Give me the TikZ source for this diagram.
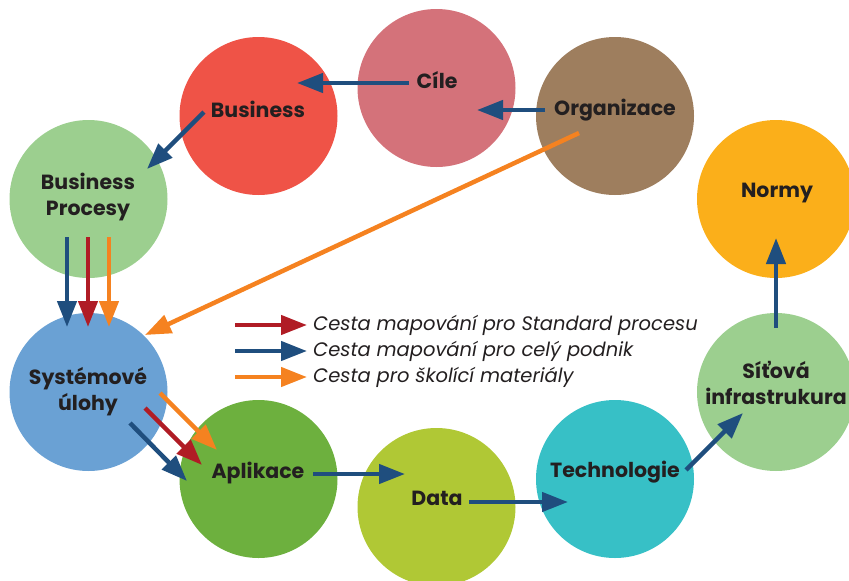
\documentclass[tikz,border=0pt]{standalone}
\usepackage{fontspec}
\setmainfont{Poppins}
\usetikzlibrary{arrows.meta,calc}
\definecolor{cCile}{HTML}{D4727A}
\definecolor{cBus}{HTML}{EF5347}
\definecolor{cOrg}{HTML}{9E7E5E}
\definecolor{cGreenL}{HTML}{9CCF8F}
\definecolor{cNormy}{HTML}{FBAF1A}
\definecolor{cSys}{HTML}{6AA1D4}
\definecolor{cApl}{HTML}{6DB03E}
\definecolor{cData}{HTML}{B0C835}
\definecolor{cTech}{HTML}{37C0C6}
\definecolor{aBlue}{HTML}{1F4E7E}
\definecolor{aRed}{HTML}{B01C25}
\definecolor{aOrange}{HTML}{F58220}
\definecolor{txt}{HTML}{231F20}
\tikzset{
  bubble/.style={circle,minimum size=158pt,inner sep=0pt,draw=none,fill=#1},
  lab/.style={text=txt,font=\bfseries\fontsize{20.5}{26}\selectfont,align=center,inner sep=0pt},
  leg/.style={text=txt,font=\itshape\fontsize{19.5}{22}\selectfont,anchor=west,inner sep=0pt},
  conn/.style={line width=4.5pt,draw=#1,-{Triangle[length=26pt,width=19pt]}},
}
\begin{document}
\begin{tikzpicture}[x=1pt,y=1pt]
\useasboundingbox (0,0) rectangle (849,-581);
\clip (0,0) rectangle (849,-581);
% circles
\node[bubble=cCile] (cile) at (436.5,-88) {};
\node[bubble=cBus] (bus) at (258.5,-116) {};
\node[bubble=cOrg] (org) at (615,-116) {};
\node[bubble=cGreenL] (bp) at (88.5,-199) {};
\node[bubble=cNormy] (normy) at (776,-199) {};
\node[bubble=cSys] (sys) at (88.5,-392) {};
\node[bubble=cApl] (apl) at (258.5,-479) {};
\node[bubble=cData] (data) at (436.5,-507) {};
\node[bubble=cTech] (tech) at (615,-479) {};
\node[bubble=cGreenL] (sit) at (776,-392) {};
% labels
\node[lab] (lCile) at (437,-80) {Cíle};
\node[lab] (lBus) at (258,-109) {Business};
\node[lab] (lOrg) at (615,-110) {Organizace};
\node[lab] (lBp) at (88,-197) {Business\\Procesy};
\node[lab] (lNormy) at (777,-193) {Normy};
\node[lab] (lSys) at (88,-392) {Systémové\\úlohy};
\node[lab] (lApl) at (258,-473) {Aplikace};
\node[lab] (lData) at (437,-498) {Data};
\node[lab] (lTech) at (615,-472) {Technologie};
\node[lab] (lSit) at (776,-383) {Síťová\\infrastrukura};
% connector end points
\coordinate (cileS) at (409,-83);   \coordinate (busE) at (297,-83);
\coordinate (orgS) at (545,-110);   \coordinate (cileE) at (477,-110);
\coordinate (busS) at (204,-112);   \coordinate (bpE) at (147,-169);
\coordinate (bpS1) at (67,-237);    \coordinate (sysE1) at (67,-327);
\coordinate (bpS2) at (88,-237);    \coordinate (sysE2) at (88,-327);
\coordinate (bpS3) at (109,-237);   \coordinate (sysE3) at (109,-327);
\coordinate (orgS2) at (579,-133);  \coordinate (sysE4) at (145,-335);
\coordinate (sysS1) at (130,-423);  \coordinate (aplE1) at (187,-481);
\coordinate (sysS2) at (145,-408);  \coordinate (aplE2) at (202,-465);
\coordinate (sysS3) at (160,-393);  \coordinate (aplE3) at (217,-450);
\coordinate (aplS) at (313,-474);   \coordinate (dataE) at (405,-474);
\coordinate (dataS) at (469,-502);  \coordinate (techE) at (568,-502);
\coordinate (techS) at (686,-470);  \coordinate (sitE) at (743,-413);
\coordinate (sitS) at (776,-328);   \coordinate (normyE) at (776,-238);
% connectors
\draw[conn=aBlue] (cileS) -- (busE);
\draw[conn=aBlue] (orgS) -- (cileE);
\draw[conn=aBlue] (busS) -- (bpE);
\draw[conn=aBlue] (bpS1) -- (sysE1);
\draw[conn=aRed] (bpS2) -- (sysE2);
\draw[conn=aOrange] (bpS3) -- (sysE3);
\draw[conn=aOrange] (orgS2) -- (sysE4);
\draw[conn=aBlue] (sysS1) -- (aplE1);
\draw[conn=aRed] (sysS2) -- (aplE2);
\draw[conn=aOrange] (sysS3) -- (aplE3);
\draw[conn=aBlue] (aplS) -- (dataE);
\draw[conn=aBlue] (dataS) -- (techE);
\draw[conn=aBlue] (techS) -- (sitE);
\draw[conn=aBlue] (sitS) -- (normyE);
% legend
\coordinate (lg1a) at (235,-325); \coordinate (lg1b) at (307,-325);
\coordinate (lg2a) at (235,-351); \coordinate (lg2b) at (307,-351);
\coordinate (lg3a) at (235,-377); \coordinate (lg3b) at (307,-377);
\draw[conn=aRed] (lg1a) -- (lg1b);
\draw[conn=aBlue] (lg2a) -- (lg2b);
\draw[conn=aOrange] (lg3a) -- (lg3b);
\node[leg] (t1) at (313,-325) {Cesta mapování pro Standard procesu};
\node[leg] (t2) at (313,-351) {Cesta mapování pro celý podnik};
\node[leg] (t3) at (313,-377) {Cesta pro školící materiály};
\end{tikzpicture}
\end{document}
